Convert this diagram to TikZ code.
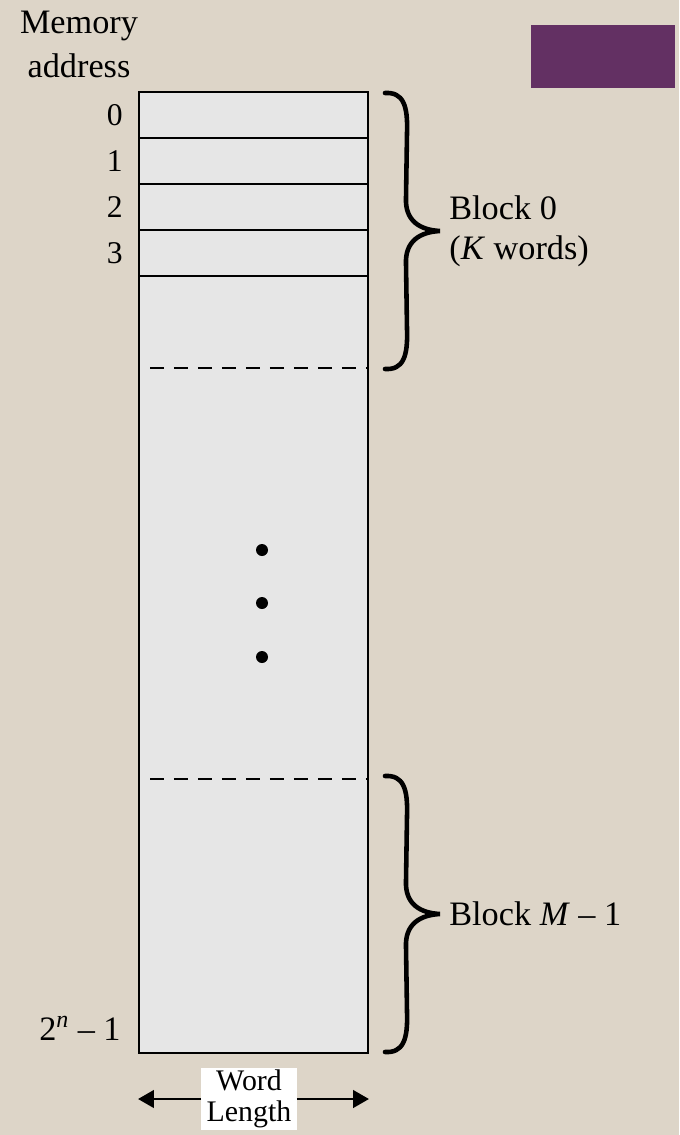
\documentclass[tikz,border=0pt]{standalone}
\usepackage{fontspec}
\setmainfont{Liberation Serif}
\usepackage{tikz}
\usetikzlibrary{arrows.meta, positioning, calc}
\definecolor{PaperBeige}{HTML}{DDD5C8}
\definecolor{SlidePurple}{HTML}{633063}
\definecolor{CellGray}{HTML}{E6E6E6}

\begin{document}
\begin{tikzpicture}[
    x=0.02cm, y=-0.02cm,
    font=\fontsize{19.5}{22.7}\selectfont,
    >={Triangle[length=9pt, width=10pt]},
    membox/.style = {
        rectangle, draw, line width=1.1pt, fill=CellGray,
        minimum width=4.58cm, minimum height=19.2cm, inner sep=0pt
    },
    wordcell/.style = {
        rectangle, draw, line width=1.1pt, fill=CellGray,
        minimum width=4.58cm, minimum height=0.92cm,
        inner sep=0pt, outer sep=0pt
    },
    addr/.style = {anchor=east, inner sep=0pt, font=\fontsize{18}{20}\selectfont},
    blocklabel/.style = {anchor=west, align=left, inner sep=0pt},
    blockline/.style = {line width=1.1pt, dash pattern=on 0.28cm off 0.2cm},
    dot/.style = {circle, fill, inner sep=0pt, minimum size=0.24cm},
    arrow/.style = {->, line width=1.3pt},
    blockbrace/.pic = {
        \draw[line width=2.6pt, line cap=round]
            (0,0) .. controls (18,-1) and (23,12) .. (22,40)
            -- (21,105) .. controls (20,128) and (35,137) .. (55,138)
            .. controls (35,139) and (20,148) .. (21,171)
            -- (22,236) .. controls (23,264) and (18,277) .. (0,276);
        \coordinate (-tip) at (55,138);
    }
]

% ===== PAGE =====
\fill[PaperBeige] (0,0) rectangle (679,1135);
\node[fill=SlidePurple, minimum width=2.88cm, minimum height=1.26cm, inner sep=0pt] (tab) at (603,56.5) {};

% ===== MEMORY =====
\node[membox] (mem) at (253.5,573) {};
\node[wordcell, anchor=north] (w0) at (mem.north) {};
\node[wordcell, below=0pt of w0] (w1) {};
\node[wordcell, below=0pt of w1] (w2) {};
\node[wordcell, below=0pt of w2] (w3) {};

\foreach \i in {0,...,3}
    \node[addr] (a\i) at ([xshift=-0.32cm]w\i.west) {\i};
\node[addr, font=\fontsize{19.5}{22}\selectfont] (alast) at (121,1028) {2\textsuperscript{\textit{n}} – 1};

\node[align=center, inner sep=0pt, font=\fontsize{19.5}{25}\selectfont] (memlabel) at (79,44) {Memory\\address};

% ===== BLOCKS =====
\coordinate (cut0) at (150,368);
\coordinate (cut1) at (150,779);
\draw[blockline] (cut0) -- (cut0 -| mem.east);
\draw[blockline] (cut1) -- (cut1 -| mem.east);

\node[dot] (d1) at (262,550) {};
\node[dot] (d2) at (262,603) {};
\node[dot] (d3) at (262,657) {};

\pic (top) at (385,93) {blockbrace};
\pic (bot) at (385,776) {blockbrace};
\node[blocklabel, right=0.18cm of top-tip] (b0) {Block 0\\(\textit{K} words)};
\node[blocklabel, right=0.18cm of bot-tip] (bm) {Block \textit{M} – 1};

% ===== WORD LENGTH =====
\node[fill=white, align=center, inner xsep=3pt, inner ysep=1pt,
      font=\fontsize{17}{18}\selectfont] (wlen) at (249,1099) {Word\\Length};
\draw[arrow] (wlen.west) -- (wlen.west -| mem.west);
\draw[arrow] (wlen.east) -- (wlen.east -| mem.east);
\end{tikzpicture}
\end{document}
